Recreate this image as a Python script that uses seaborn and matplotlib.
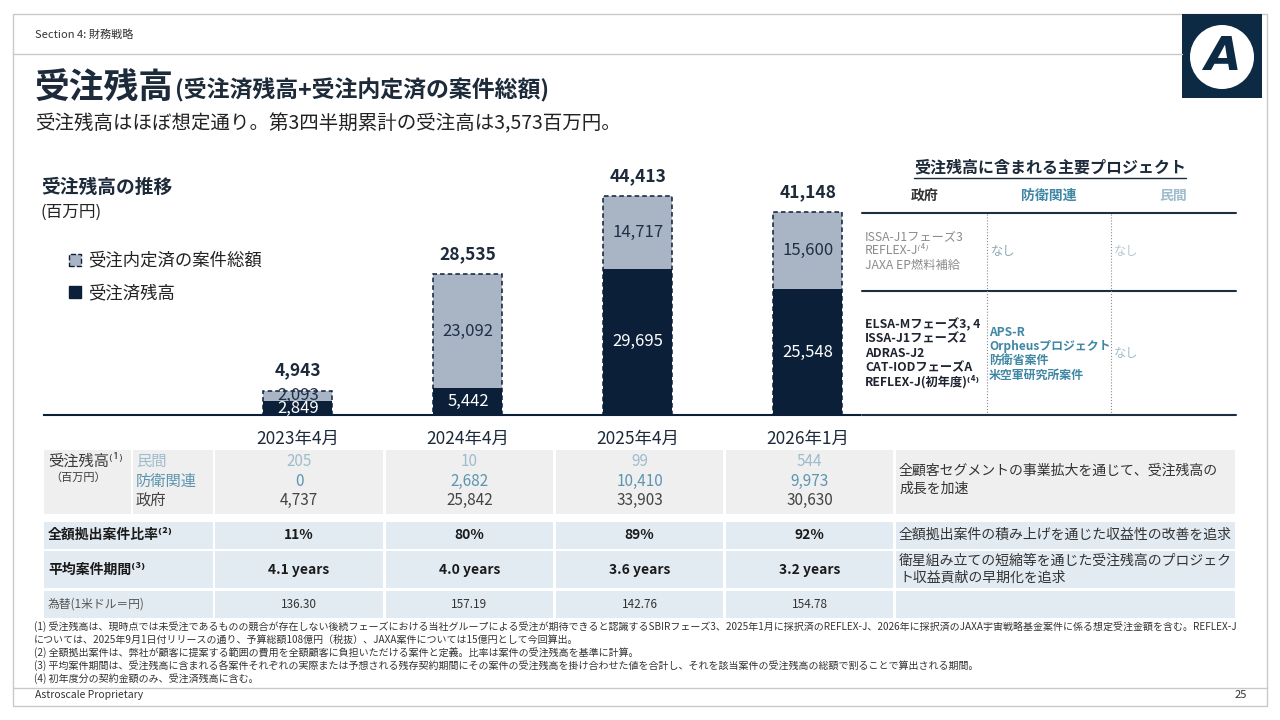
import matplotlib
matplotlib.use("Agg")
import matplotlib.pyplot as plt
from matplotlib.patches import Rectangle, Circle, Patch
import pandas as pd
import seaborn as sns

# data (百万円)
months = ["2023年4月", "2024年4月", "2025年4月", "2026年1月"]
committed = [2849, 5442, 29695, 25548]      # 受注済残高
pending = [2093, 23092, 14717, 15600]       # 受注内定済の案件総額
totals = [4943, 28535, 44413, 41148]

private = [205, 10, 99, 544]
defense = [0, 2682, 10410, 9973]
government = [4737, 25842, 33903, 30630]
full_funded = ["11%", "80%", "89%", "92%"]
avg_years = [4.1, 4.0, 3.6, 3.2]
fx_rate = [136.30, 157.19, 142.76, 154.78]

NAVY = "#0b2038"
LIGHT = "#a9b4c5"
TEAL = "#3f87a5"
PALE = "#9fbccc"
GREY_CELL = "#efefef"
BLUE_CELL = "#e3ebf2"

sns.set_theme(style="white")
plt.rcParams["font.family"] = ["Noto Sans CJK JP", "DejaVu Sans"]

df = pd.DataFrame({"month": months, "committed": committed,
                   "pending": pending, "total": totals})

fig = plt.figure(figsize=(12.8, 7.2), dpi=100)
fig.patch.set_facecolor("white")

# full-slide layer in pixel coordinates (y down)
bg = fig.add_axes([0, 0, 1, 1], zorder=0)
bg.set_xlim(0, 1280)
bg.set_ylim(720, 0)
bg.axis("off")

def txt(x, y, s, **kw):
    kw.setdefault("va", "center")
    kw.setdefault("color", "#2b2b2b")
    bg.text(x, y, s, **kw)

def hline(y, x0, x1, **kw):
    bg.plot([x0, x1], [y, y], **kw)

# slide frame, header, footer
bg.add_patch(Rectangle((13, 14), 1254, 692, fill=False, edgecolor="#c9c9c9", lw=1))
hline(54, 13, 1182, color="#c9c9c9", lw=1)
hline(688, 13, 1267, color="#c9c9c9", lw=1)
txt(35, 35, "Section 4: 財務戦略", fontsize=8, color="#333333")
txt(35, 695, "Astroscale Proprietary", fontsize=7.5, color="#333333")
txt(1247, 695, "25", fontsize=8, ha="right", color="#333333")

# logo
bg.add_patch(Rectangle((1182, 14), 80, 84, facecolor="#0d2a45", edgecolor="none"))
bg.add_patch(Circle((1222, 57), 32, facecolor="white", edgecolor="none"))
txt(1222, 58, "A", fontsize=34, fontweight="bold", style="italic",
    color="#0d2a45", ha="center", family="DejaVu Sans")

# titles
txt(35, 88, "受注残高", fontsize=25, fontweight="bold", color="#1c2a3a")
txt(175, 90, "(受注済残高+受注内定済の案件総額)", fontsize=16.5,
    fontweight="bold", color="#1c2a3a")
txt(35, 124, "受注残高はほぼ想定通り。第3四半期累計の受注高は3,573百万円。",
    fontsize=14, color="#222222")
txt(41, 187, "受注残高の推移", fontsize=13.5, fontweight="bold", color="#1c2a3a")
txt(41, 212, "(百万円)", fontsize=12, color="#222222")

# stacked bars
ax = fig.add_axes([44 / 1280, (720 - 415) / 720, (860 - 44) / 1280, 265 / 720],
                  zorder=2)
ax.set_facecolor("none")
sns.barplot(data=df, x="month", y="total", color=LIGHT, saturation=1,
            width=0.406, edgecolor=NAVY, linewidth=1.1, linestyle=(0, (3, 2)),
            errorbar=None, ax=ax)
sns.barplot(data=df, x="month", y="committed", color=NAVY, saturation=1,
            width=0.406, linewidth=0, errorbar=None, ax=ax)
ax.set_xlim(-1.494, 3.306)
ax.set_ylim(0, 53740)
ax.set_xlabel("")
ax.set_ylabel("")
ax.set_yticks([])
for s in ["top", "right", "left"]:
    ax.spines[s].set_visible(False)
ax.spines["bottom"].set_color(NAVY)
ax.spines["bottom"].set_linewidth(1.5)
ax.tick_params(axis="x", length=0, pad=11, labelsize=12.5, labelcolor="#1c2a3a")

for i in range(len(months)):
    ax.text(i, committed[i] / 2, f"{committed[i]:,}", ha="center", va="center",
            color="white", fontsize=12)
    ax.text(i, committed[i] + pending[i] / 2, f"{pending[i]:,}", ha="center",
            va="center", color="#1d3048", fontsize=12)
    ax.annotate(f"{totals[i]:,}", (i, totals[i]), xytext=(0, 20),
                textcoords="offset pixels", ha="center", va="center",
                fontsize=12.5, fontweight="bold", color="#1c2a3a")

handles = [Patch(facecolor=LIGHT, edgecolor=NAVY, linestyle="--", linewidth=1),
           Patch(facecolor=NAVY, edgecolor=NAVY)]
ax.legend(handles, ["受注内定済の案件総額", "受注済残高"], loc="upper left",
          bbox_to_anchor=(60 / 1280, 1 - 243 / 720), bbox_transform=fig.transFigure,
          frameon=False, fontsize=12.5, handlelength=0.7, handleheight=0.7,
          handletextpad=0.4, labelspacing=0.85, borderpad=0, labelcolor="#222222")

# right table: main projects
txt(1050, 168, "受注残高に含まれる主要プロジェクト", fontsize=11.5, fontweight="bold",
    ha="center", color="#1c2a3a")
hline(178, 914, 1186, color="#1c2a3a", lw=1)
txt(925, 196, "政府", fontsize=10, fontweight="bold", ha="center", color="#333333")
txt(1049, 196, "防衛関連", fontsize=10, fontweight="bold", ha="center", color=TEAL)
txt(1173, 196, "民間", fontsize=10, fontweight="bold", ha="center", color=PALE)
for yy in [213, 291, 415]:
    hline(yy, 862, 1236, color="#1d2e40", lw=1.5)
for xx in [987, 1111]:
    bg.plot([xx, xx], [214, 414], color="#8a8a8a", lw=0.8, linestyle=":")

row1 = ["ISSA-J1フェーズ3", "REFLEX-J⁽⁴⁾", "JAXA EP燃料補給"]
for k, s in enumerate(row1):
    txt(865, 237 + 14 * k, s, fontsize=8.8, style="italic", color="#8c8c8c")
txt(991, 251, "なし", fontsize=8.8, style="italic", color="#8fa7b8")
txt(1114, 251, "なし", fontsize=8.8, style="italic", color="#b5c8d3")

row2 = ["ELSA-Mフェーズ3, 4", "ISSA-J1フェーズ2", "ADRAS-J2", "CAT-IODフェーズA",
        "REFLEX-J(初年度)⁽⁴⁾"]
for k, s in enumerate(row2):
    txt(865, 325 + 14.2 * k, s, fontsize=8.8, fontweight="bold", color="#1d2330")
defense_projects = ["APS-R", "Orpheusプロジェクト", "防衛省案件", "米空軍研究所案件"]
for k, s in enumerate(defense_projects):
    txt(989, 332 + 14.3 * k, s, fontsize=8.6, fontweight="bold", color=TEAL)
txt(1114, 353, "なし", fontsize=8.8, color=PALE)

# bottom table
col_x = [(215, 383), (386, 553), (556, 723), (726, 893)]
comment_x = (896, 1235)

def cell(x0, x1, y0, y1, color):
    bg.add_patch(Rectangle((x0, y0), x1 - x0, y1 - y0, facecolor=color,
                           edgecolor="none"))

# group 1: backlog by segment
cell(44, 131, 450, 514, GREY_CELL)
cell(133, 213, 450, 514, GREY_CELL)
for x0, x1 in col_x:
    cell(x0, x1, 450, 514, GREY_CELL)
cell(comment_x[0], comment_x[1], 450, 514, GREY_CELL)
txt(48, 461, "受注残高⁽¹⁾", fontsize=11, color="#3a3a3a")
txt(50, 478, "（百万円）", fontsize=8, color="#3a3a3a")
seg_rows = [("民間", private, PALE, 461),
            ("防衛関連", defense, "#5b95b0", 481),
            ("政府", government, "#444444", 500)]
for name, vals, colr, yy in seg_rows:
    txt(136, yy, name, fontsize=11, color=colr)
    for (x0, x1), v in zip(col_x, vals):
        txt((x0 + x1) / 2, yy, f"{v:,}", fontsize=11, ha="center", color=colr)
txt(899, 471, "全顧客セグメントの事業拡大を通じて、受注残高の", fontsize=10, color="#333333")
txt(899, 489, "成長を加速", fontsize=10, color="#333333")

# group 2: ratios
rows = [(522, 549, "全額拠出案件比率⁽²⁾", full_funded, 535),
        (551, 588, "平均案件期間⁽³⁾", [f"{v:.1f} years" for v in avg_years], 570),
        (591, 618, "為替(1米ドル＝円)", [f"{v:.2f}" for v in fx_rate], 604)]
for k, (y0, y1, label, vals, yy) in enumerate(rows):
    cell(44, 213, y0, y1, BLUE_CELL)
    for x0, x1 in col_x:
        cell(x0, x1, y0, y1, BLUE_CELL)
    cell(comment_x[0], comment_x[1], y0, y1, BLUE_CELL)
    if k < 2:
        txt(48, yy, label, fontsize=10, fontweight="bold", color="#1a1a1a")
        for (x0, x1), v in zip(col_x, vals):
            txt((x0 + x1) / 2, yy, v, fontsize=10, fontweight="bold",
                ha="center", color="#1a1a1a")
    else:
        txt(48, yy, label, fontsize=8.5, color="#555555")
        for (x0, x1), v in zip(col_x, vals):
            txt((x0 + x1) / 2, yy, v, fontsize=8.5, ha="center", color="#333333")
txt(899, 535, "全額拠出案件の積み上げを通じた収益性の改善を追求", fontsize=10, color="#333333")
txt(899, 561, "衛星組み立ての短縮等を通じた受注残高のプロジェク", fontsize=10, color="#333333")
txt(899, 578, "ト収益貢献の早期化を追求", fontsize=10, color="#333333")

# footnotes
notes = [
    "(1) 受注残高は、現時点では未受注であるものの競合が存在しない後続フェーズにおける当社グループによる受注が期待できると認識するSBIRフェーズ3、2025年1月に採択済のREFLEX-J、2026年に採択済のJAXA宇宙戦略基金案件に係る想定受注金額を含む。REFLEX-J",
    "については、2025年9月1日付リリースの通り、予算総額108億円（税抜）、JAXA案件については15億円として今回算出。",
    "(2) 全額拠出案件は、弊社が顧客に提案する範囲の費用を全額顧客に負担いただける案件と定義。比率は案件の受注残高を基準に計算。",
    "(3) 平均案件期間は、受注残高に含まれる各案件それぞれの実際または予想される残存契約期間にその案件の受注残高を掛け合わせた値を合計し、それを該当案件の受注残高の総額で割ることで算出される期間。",
    "(4) 初年度分の契約金額のみ、受注済残高に含む。",
]
for k, s in enumerate(notes):
    txt(34, 627 + 13 * k, s, fontsize=7.2, style="italic", color="#333333")

fig.savefig("out.png", dpi=100, facecolor="white")
